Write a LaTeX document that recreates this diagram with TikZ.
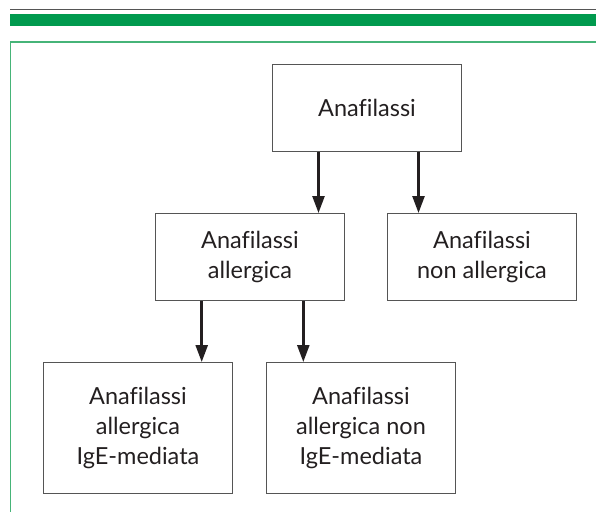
\documentclass[tikz,border=0pt]{standalone}
\usepackage{fontspec}
\setmainfont[Ligatures=NoCommon]{Lato}
\usetikzlibrary{arrows.meta}
\definecolor{barGreen}{RGB}{0,154,78}
\definecolor{frameGreen}{RGB}{70,180,120}
\definecolor{lineGray}{RGB}{85,85,85}
\definecolor{textGray}{RGB}{35,31,32}

\begin{document}
\begin{tikzpicture}[x=1pt, y=1pt,
  box/.style={rectangle, draw=lineGray, line width=1pt, minimum width=189pt, align=center, anchor=north west, text=textGray, font=\fontsize{23.5}{30}\selectfont},
  arr/.style={-{Triangle[length=17pt,width=12pt]}, line width=2.5pt, draw=textGray}]
\useasboundingbox (0,0) rectangle (596,-512);
% header
\draw [lineGray, line width=1.5pt] (10,-9.7) -- (596,-9.7);
\fill [barGreen] (10,-14) rectangle (596,-26);
\draw [frameGreen, line width=1.8pt] (596,-41.7) -- (10.5,-41.7) -- (10.5,-512);

\node (rect) [box, minimum height=87pt] at (272,-64) {Anafilassi};

\node (rectA) [box, minimum height=87pt] at (155,-213) {Anafilassi\\allergica};
\node (rectB) [box, minimum height=87pt] at (387,-213) {Anafilassi\\non allergica};

\node (rectA0) [box, minimum height=131pt] at (43,-362) {Anafilassi\\allergica\\IgE-mediata};
\node (rectA1) [box, minimum height=131pt] at (266,-362) {Anafilassi\\allergica non\\IgE-mediata};

\draw [arr] ([xshift=-48.5pt]rect.south) -- ([xshift=-48.5pt]rect.south |- rectA.north);
\draw [arr] ([xshift=51.5pt]rect.south) -- ([xshift=51.5pt]rect.south |- rectB.north);
\draw [arr] ([xshift=-48.3pt]rectA.south) -- ([xshift=-48.3pt]rectA.south |- rectA0.north);
\draw [arr] ([xshift=53.3pt]rectA.south) -- ([xshift=53.3pt]rectA.south |- rectA1.north);
\end{tikzpicture}
\end{document}
